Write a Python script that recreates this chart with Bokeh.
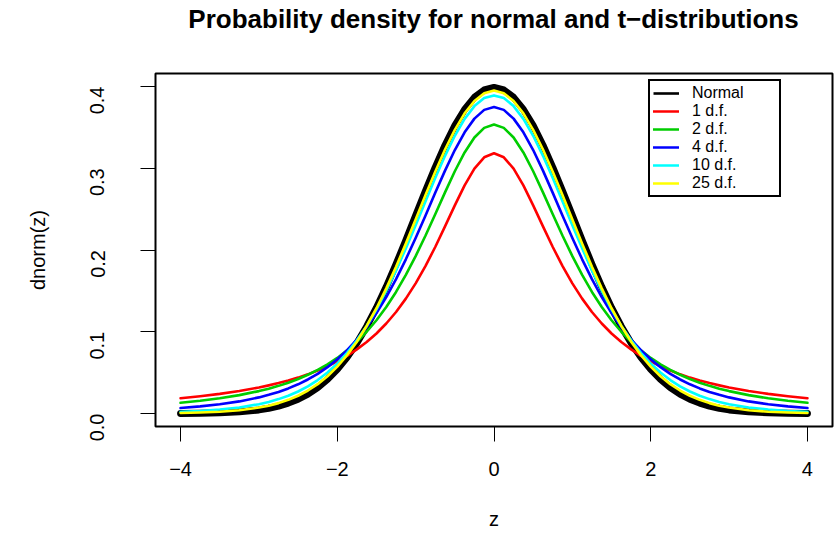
import math
from bokeh.plotting import figure
from bokeh.models import Range1d, FixedTicker, Legend, LegendItem, Div
from bokeh.layouts import column
from bokeh.embed import file_html
from bokeh.resources import INLINE

# ---- data (densities) ----
z = [-4.0, -3.75, -3.5, -3.25,
     -3.0, -2.875, -2.75, -2.625, -2.5, -2.375, -2.25, -2.125, -2.0, -1.875, -1.75, -1.625,
     -1.5, -1.375, -1.25, -1.125, -1.0, -0.875, -0.75, -0.625, -0.5, -0.375, -0.25, -0.125,
     0.0,
     0.125, 0.25, 0.375, 0.5, 0.625, 0.75, 0.875, 1.0, 1.125, 1.25, 1.375, 1.5,
     1.625, 1.75, 1.875, 2.0, 2.125, 2.25, 2.375, 2.5, 2.625, 2.75, 2.875, 3.0,
     3.25, 3.5, 3.75, 4.0]

normal = [0.00013, 0.00035, 0.00087, 0.0020,
          0.0044, 0.0064, 0.0091, 0.0127, 0.0175, 0.0238, 0.0317, 0.0417, 0.0540, 0.0688, 0.0863, 0.1065,
          0.1295, 0.1550, 0.1826, 0.2119, 0.2420, 0.2721, 0.3011, 0.3282, 0.3521, 0.3719, 0.3867, 0.3958,
          0.3989,
          0.3958, 0.3867, 0.3719, 0.3521, 0.3282, 0.3011, 0.2721, 0.2420, 0.2119, 0.1826, 0.1550, 0.1295,
          0.1065, 0.0863, 0.0688, 0.0540, 0.0417, 0.0317, 0.0238, 0.0175, 0.0127, 0.0091, 0.0064, 0.0044,
          0.0020, 0.00087, 0.00035, 0.00013]
df1 = [0.0187, 0.0211, 0.0240, 0.0275,
       0.0318, 0.0344, 0.0372, 0.0403, 0.0439, 0.0479, 0.0525, 0.0577, 0.0637, 0.0705, 0.0784, 0.0874,
       0.0979, 0.1101, 0.1242, 0.1405, 0.1592, 0.1803, 0.2037, 0.2289, 0.2546, 0.2791, 0.2996, 0.3134,
       0.3183,
       0.3134, 0.2996, 0.2791, 0.2546, 0.2289, 0.2037, 0.1803, 0.1592, 0.1405, 0.1242, 0.1101, 0.0979,
       0.0874, 0.0784, 0.0705, 0.0637, 0.0577, 0.0525, 0.0479, 0.0439, 0.0403, 0.0372, 0.0344, 0.0318,
       0.0275, 0.0240, 0.0211, 0.0187]
df2 = [0.0131, 0.0155, 0.0186, 0.0225,
       0.0274, 0.0304, 0.0338, 0.0377, 0.0422, 0.0474, 0.0533, 0.0601, 0.0680, 0.0772, 0.0878, 0.1000,
       0.1141, 0.1303, 0.1487, 0.1695, 0.1925, 0.2174, 0.2438, 0.2705, 0.2963, 0.3193, 0.3376, 0.3494,
       0.3536,
       0.3494, 0.3376, 0.3193, 0.2963, 0.2705, 0.2438, 0.2174, 0.1925, 0.1695, 0.1487, 0.1303, 0.1141,
       0.1000, 0.0878, 0.0772, 0.0680, 0.0601, 0.0533, 0.0474, 0.0422, 0.0377, 0.0338, 0.0304, 0.0274,
       0.0225, 0.0186, 0.0155, 0.0131]
df4 = [0.0067, 0.0087, 0.0113, 0.0148,
       0.0197, 0.0228, 0.0264, 0.0307, 0.0357, 0.0416, 0.0485, 0.0567, 0.0663, 0.0775, 0.0905, 0.1056,
       0.1229, 0.1425, 0.1644, 0.1886, 0.2147, 0.2420, 0.2699, 0.2971, 0.3223, 0.3440, 0.3607, 0.3714,
       0.3750,
       0.3714, 0.3607, 0.3440, 0.3223, 0.2971, 0.2699, 0.2420, 0.2147, 0.1886, 0.1644, 0.1425, 0.1229,
       0.1056, 0.0905, 0.0775, 0.0663, 0.0567, 0.0485, 0.0416, 0.0357, 0.0307, 0.0264, 0.0228, 0.0197,
       0.0148, 0.0113, 0.0087, 0.0067]
df10 = [0.0020, 0.0031, 0.0048, 0.0074,
        0.0114, 0.0142, 0.0176, 0.0218, 0.0269, 0.0332, 0.0409, 0.0501, 0.0611, 0.0742, 0.0895, 0.1072,
        0.1274, 0.1501, 0.1751, 0.2020, 0.2304, 0.2593, 0.2880, 0.3152, 0.3397, 0.3603, 0.3760, 0.3858,
        0.3891,
        0.3858, 0.3760, 0.3603, 0.3397, 0.3152, 0.2880, 0.2593, 0.2304, 0.2020, 0.1751, 0.1501, 0.1274,
        0.1072, 0.0895, 0.0742, 0.0611, 0.0501, 0.0409, 0.0332, 0.0269, 0.0218, 0.0176, 0.0142, 0.0114,
        0.0074, 0.0048, 0.0031, 0.0020]
df25 = [0.00064, 0.0012, 0.0022, 0.0040,
        0.0073, 0.0096, 0.0127, 0.0167, 0.0217, 0.0281, 0.0359, 0.0456, 0.0574, 0.0714, 0.0879, 0.1071,
        0.1288, 0.1531, 0.1796, 0.2078, 0.2372, 0.2669, 0.2958, 0.3229, 0.3470, 0.3672, 0.3823, 0.3918,
        0.3950,
        0.3918, 0.3823, 0.3672, 0.3470, 0.3229, 0.2958, 0.2669, 0.2372, 0.2078, 0.1796, 0.1531, 0.1288,
        0.1071, 0.0879, 0.0714, 0.0574, 0.0456, 0.0359, 0.0281, 0.0217, 0.0167, 0.0127, 0.0096, 0.0073,
        0.0040, 0.0022, 0.0012, 0.00064]

series_names = ["Normal", "1 d.f.", "2 d.f.", "4 d.f.", "10 d.f.", "25 d.f."]
series_values = [normal, df1, df2, df4, df10, df25]
series_colors = ["black", "#FF0000", "#00CD00", "#0000FF", "#00FFFF", "#FFFF00"]
series_widths = [7, 2.6, 2.6, 2.6, 2.6, 2.6]
legend_width = 2.6

x_ticks = [-4, -2, 0, 2, 4]
x_tick_labels = ["\u22124", "\u22122", "0", "2", "4"]
y_ticks = [0.0, 0.1, 0.2, 0.3, 0.4]
y_tick_labels = ["0.0", "0.1", "0.2", "0.3", "0.4"]
title_text = "Probability density for normal and t\u2212distributions"

FONT = "Liberation Sans"
X0, X1 = -4.32, 4.32
Y0, Y1 = -0.0159, 0.4159
TITLE_H = 38

p = figure(width=835, height=536 - TITLE_H, output_backend="svg", toolbar_location=None,
           x_range=Range1d(X0, X1), y_range=Range1d(Y0, Y1),
           min_border_left=155, min_border_right=3, min_border_top=73 - TITLE_H, min_border_bottom=110)

p.xgrid.visible = False
p.ygrid.visible = False
p.outline_line_color = "black"
p.outline_line_width = 2
p.background_fill_color = "white"
p.border_fill_color = "white"

for ax in (p.xaxis[0], p.yaxis[0]):
    ax.axis_line_color = None
    ax.major_tick_line_color = "black"
    ax.major_tick_line_width = 1
    ax.major_tick_out = 15
    ax.major_tick_in = 0
    ax.minor_tick_line_color = None
    ax.major_label_text_font = FONT
    ax.major_label_text_font_size = "20px"
    ax.major_label_text_color = "black"
    ax.axis_label_text_font = FONT
    ax.axis_label_text_font_size = "20px"
    ax.axis_label_text_font_style = "normal"
    ax.axis_label_text_color = "black"

p.xaxis[0].ticker = FixedTicker(ticks=x_ticks)
p.xaxis[0].major_label_overrides = dict(zip(x_ticks, x_tick_labels))
p.xaxis[0].axis_label = "z"
p.xaxis[0].major_label_standoff = 20
p.xaxis[0].axis_label_standoff = 29

p.yaxis[0].ticker = FixedTicker(ticks=y_ticks)
p.yaxis[0].major_label_overrides = dict(zip(y_ticks, y_tick_labels))
p.yaxis[0].major_label_orientation = math.pi / 2
p.yaxis[0].axis_label = "dnorm(z)"
p.yaxis[0].major_label_standoff = 43
p.yaxis[0].axis_label_standoff = 32

items = []
for name, vals, col, w in zip(series_names, series_values, series_colors, series_widths):
    if w != legend_width:
        # thin copy underneath, used only as the legend swatch
        key = p.line(z, vals, line_color=col, line_width=legend_width)
        p.line(z, vals, line_color=col, line_width=w, line_cap="round", line_join="round")
    else:
        key = p.line(z, vals, line_color=col, line_width=w, line_cap="round", line_join="round")
    items.append(LegendItem(label=name, renderers=[key]))

legend = Legend(items=items, location=(493, 229))
legend.label_text_font = FONT
legend.label_text_font_size = "16px"
legend.label_text_color = "black"
legend.label_height = 14
legend.label_width = 84
legend.glyph_height = 14
legend.glyph_width = 26
legend.spacing = 0
legend.padding = 3
legend.margin = 0
legend.label_standoff = 13
legend.border_line_color = "black"
legend.border_line_alpha = 1
legend.border_line_width = 2
legend.background_fill_color = "white"
legend.background_fill_alpha = 1
p.add_layout(legend, "center")

title = Div(text=title_text, width=677, height=TITLE_H, margin=(0, 0, 0, 155),
            styles={"text-align": "center", "font-family": FONT, "font-size": "26px",
                    "font-weight": "bold", "color": "black", "line-height": f"{TITLE_H}px",
                    "white-space": "nowrap", "width": "677px"})

layout = column(title, p, spacing=0)

open("out.html", "w").write(file_html(layout, INLINE))
